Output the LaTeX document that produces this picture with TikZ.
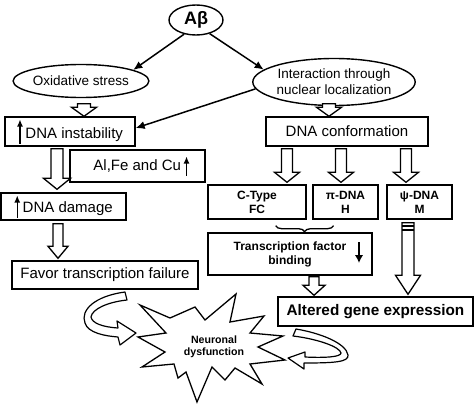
\documentclass[tikz,border=0pt]{standalone}
\usepackage{fontspec}
\setmainfont{Liberation Sans}
\usetikzlibrary{shapes.geometric,arrows.meta,calc,decorations.pathreplacing}
\tikzset{
  bx/.style={draw, line width=1.4pt, inner sep=0pt, align=center, font=\fontsize{15}{17}\selectfont},
  el/.style={draw, ellipse, line width=1.4pt, inner sep=0pt, align=center},
  blk/.style={draw, line width=1.3pt, fill=white, line join=miter},
  conn/.style={draw, line width=1.5pt, -{Latex[length=9pt,width=8pt]}},
  sm/.style={font=\bfseries\fontsize{12}{14}\selectfont},
  rib/.style={draw, line width=1.2pt, fill=white, line join=round},
  burst/.style={draw, line width=1.3pt, fill=white, line join=miter}
}
% small inline up arrow: #1 = top above baseline
\newcommand\uparr[1]{\tikz[baseline=0pt]{\draw[line width=1.3pt,-{Latex[length=7pt,width=6pt]}] (0pt,-5pt) -- (0pt,#1);}}
\newcommand\dnarr{\tikz[baseline=0pt]{\draw[line width=2.4pt,-{Latex[length=8pt,width=8.5pt]}] (0pt,14pt) -- (0pt,-7pt);}}
% block arrow: start, end, shaft half width, head half width, head length
\newcommand\barr[5]{%
  \draw[blk] let \p1=#1, \p2=#2 in
    (\x1-#3,\y1) -- (\x1-#3,\y2+#5) -- (\x1-#4,\y2+#5) -- (\x1,\y2)
    -- (\x1+#4,\y2+#5) -- (\x1+#3,\y2+#5) -- (\x1+#3,\y1) -- cycle;}
\begin{document}
\begin{tikzpicture}[x=1pt,y=-1pt]
\useasboundingbox (0,0) rectangle (474,404);

% nodes
\node[el, minimum width=54pt, minimum height=30pt, font=\bfseries\fontsize{18}{20}\selectfont] (ab) at (196,20) {Aβ};
\node[el, minimum width=127pt, minimum height=33pt, font=\fontsize{13.5}{15}\selectfont] (ox) at (81,81) {Oxidative stress};
\node[el, minimum width=158pt, minimum height=47pt, font=\fontsize{13.5}{16}\selectfont] (inter) at (334,82) {Interaction through\\nuclear localization};
\node[bx, minimum width=130pt, minimum height=29pt] (inst) at (70,131.5) {\uparr{19pt}\,DNA instability};
\node[bx, minimum width=135pt, minimum height=32pt] (metal) at (137.5,166) {\hspace*{8pt}Al,Fe and Cu\,\uparr{14pt}};
\node[bx, minimum width=125pt, minimum height=27pt] (dam) at (63.5,206.5) {\uparr{17pt}\,DNA damage};
\node[bx, minimum width=186pt, minimum height=28pt] (fav) at (105,275) {Favor transcription failure};
\node[bx, minimum width=162pt, minimum height=29pt] (conf) at (347,131.5) {DNA conformation};
\node[bx, sm, minimum width=98pt, minimum height=34pt] (ct) at (257,202) {C-Type\\FC};
\node[bx, sm, minimum width=65pt, minimum height=34pt] (pi) at (345.5,202) {π-DNA\\H};
\node[bx, sm, minimum width=65pt, minimum height=34pt] (psi) at (419.5,202) {ψ-DNA\\M};
\node[bx, sm, minimum width=164pt, minimum height=42pt] (tf) at (290,254) {Transcription factor\\binding};
\node[inner sep=0pt] (tfarr) at (359,252.5) {\dnarr};
\node[bx, font=\bfseries\fontsize{15.3}{17}\selectfont, minimum width=195pt, minimum height=29pt] (alt) at (375.5,311.5) {Altered gene expression};

% thin arrows
\draw[conn] (ab.230) -- (ox.12);
\draw[conn] (ab.-45) -- (inter.170);
\draw[conn] (inter.185) -- (inst.3);

% block arrows
\barr{($(ox.south)+(3,5.5)$)}{(inst.north)}{6.5pt}{12.5pt}{9pt}
\barr{($(inter.south)+(-5,-2.5)$)}{(conf.north)}{6.5pt}{12.5pt}{9pt}
\barr{($(inst.south)+(-13,2)$)}{($(dam.north)+(0,-3)$)}{6pt}{13.5pt}{11pt}
\barr{($(dam.south)+(-5.5,3)$)}{($(fav.north)+(0,-2)$)}{5pt}{10pt}{12pt}
\barr{($(conf.south)+(-60,2)$)}{($(ct.north)+(0,-2)$)}{5.5pt}{12.5pt}{10pt}
\barr{($(conf.south)+(-6,2)$)}{($(pi.north)+(0,-2)$)}{5.5pt}{12.5pt}{10pt}
\barr{($(conf.south)+(59,2)$)}{($(psi.north)+(0,-2)$)}{5.5pt}{12.5pt}{10pt}
\barr{($(tf.south)+(24,1)$)}{($(alt.north)+(0,-1)$)}{5pt}{11pt}{10pt}
\barr{($(psi.south)+(-11.5,3)$)}{($(alt.north)+(0,-2)$)}{6pt}{12.5pt}{19pt}
\draw[line width=1.3pt] (402,226) -- (414,226);
\draw[line width=1.3pt] (402,230) -- (414,230);

% brace
\draw[decorate, decoration={brace, mirror, amplitude=6pt}, line width=1.3pt]
  ([shift={(-31pt,-6pt)}]ct.south east) -- ([shift={(-12pt,-6pt)}]pi.south);

% starburst
\draw[burst] (138,337) -- (166,333) -- (140,305) -- (170,318) -- (195,307) -- (205,320)
  -- (236,294) -- (230,322) -- (264,316) -- (250,333) -- (283,336) -- (258,347)
  -- (285,360) -- (250,364) -- (262,384) -- (235,368) -- (225,380) -- (212,367)
  -- (197,402) -- (186,372) -- (178,378) -- (174,364) -- (142,367) -- (165,352) -- cycle;
\node[font=\bfseries\fontsize{10.6}{12.5}\selectfont, align=center] (nd) at (214,347) {Neuronal\\dysfunction};

% curved ribbon arrows
\draw[rib] (125,292) .. controls (95,296) and (80,310) .. (85,323)
  .. controls (88,333) and (105,336) .. (118,337) -- (120,345) -- (136,333) -- (117,321)
  -- (118,328) .. controls (102,327) and (92,323) .. (91,317)
  .. controls (92,309) and (108,302) .. (127,300) -- cycle;
\draw[rib] (296,329) .. controls (320,333) and (346,343) .. (348,355)
  .. controls (349,362) and (335,363) .. (304,363) -- (304,369) -- (288,358) -- (305,352)
  -- (305,357) .. controls (325,358) and (341,357) .. (341,353)
  .. controls (340,347) and (318,339) .. (293,336) -- cycle;
\end{tikzpicture}
\end{document}
